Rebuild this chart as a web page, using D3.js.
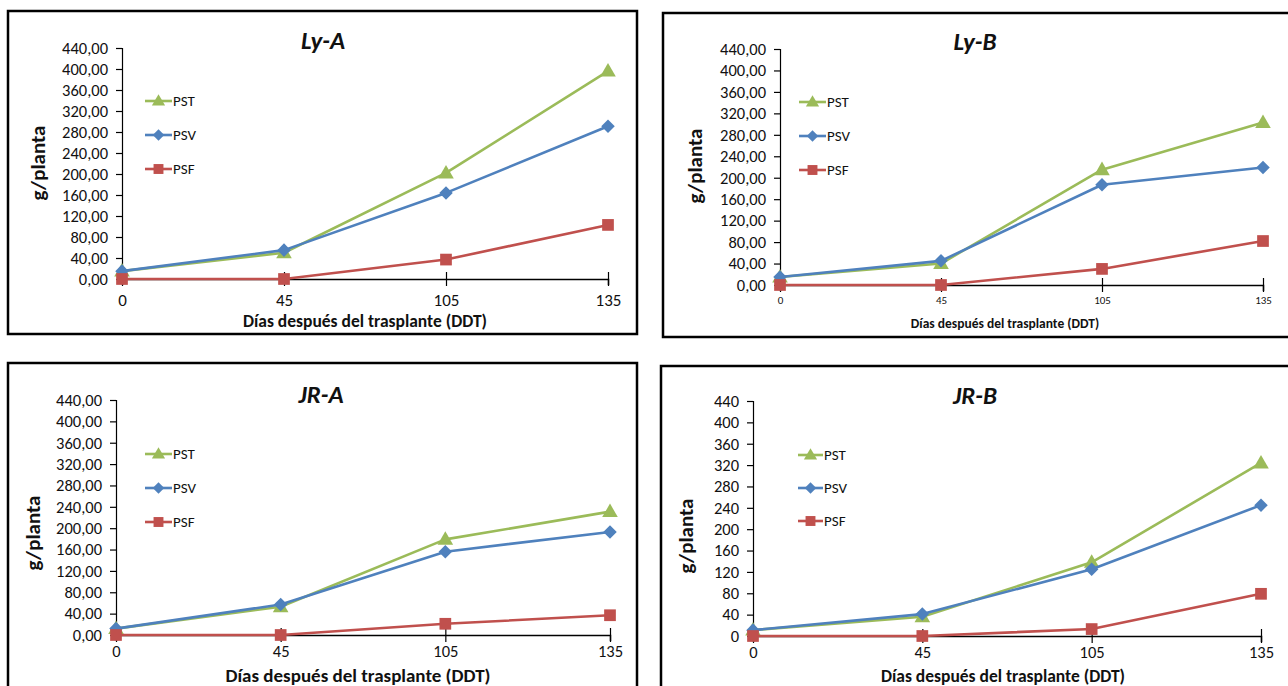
<!DOCTYPE html>
<html>
<head>
<meta charset="utf-8">
<script src="https://cdn.jsdelivr.net/npm/d3@7"></script>
<style>
  body { margin: 0; background: #fff; }
  svg text { font-family: Carlito, Calibri, Lato, sans-serif; fill: #111; }
</style>
</head>
<body>
<svg id="chart" width="1288" height="686"></svg>
<script>
// categories (Días después del trasplante)
var days = ["0", "45", "105", "135"];
var yTicks = [0, 40, 80, 120, 160, 200, 240, 280, 320, 360, 400, 440];

// Ly-A
var lyA_PST = [15, 50, 202, 396];
var lyA_PSV = [15, 55, 164, 291];
var lyA_PSF = [0, 0, 37, 103];
// Ly-B
var lyB_PST = [15, 40, 215, 303];
var lyB_PSV = [15, 45, 187, 219];
var lyB_PSF = [0, 0, 30, 82];
// JR-A
var jrA_PST = [12, 53, 179, 231];
var jrA_PSV = [12, 57, 156, 193];
var jrA_PSF = [0, 0, 21, 37];
// JR-B
var jrB_PST = [11, 36, 138, 324];
var jrB_PSV = [11, 41, 125, 245];
var jrB_PSF = [0, 0, 13, 79];

var seriesInfo = [
  {name: "PST", color: "#9BBB59", shape: "triangle"},
  {name: "PSV", color: "#4F81BD", shape: "diamond"},
  {name: "PSF", color: "#C0504D", shape: "square"}
];

var panels = [
  {title: "Ly-A", data: [lyA_PST, lyA_PSV, lyA_PSF], fmt: "dec",
   box: [8, 11, 629, 323], x0: 122, x1: 608, yBot: 279, yTop: 48,
   titleXY: [323, 49], yFont: 16.5, xFont: 17, xLabY: 300,
   xTitle: [365, 327, 17.5], yTitle: [38, 163, 21],
   leg: [145, 172, 101, 34, 15]},
  {title: "Ly-B", data: [lyB_PST, lyB_PSV, lyB_PSF], fmt: "dec",
   box: [663, 13, 640, 324], x0: 780, x1: 1263, yBot: 285, yTop: 49,
   titleXY: [975, 50], yFont: 16.5, xFont: 11, xLabY: 300,
   xTitle: [1005, 328, 13.5], yTitle: [695, 166, 21],
   leg: [799, 826, 102, 34, 15]},
  {title: "JR-A", data: [jrA_PST, jrA_PSV, jrA_PSF], fmt: "dec",
   box: [8, 363, 629, 340], x0: 116, x1: 610, yBot: 635, yTop: 400,
   titleXY: [321, 403], yFont: 16.5, xFont: 16.5, xLabY: 651,
   xTitle: [358, 682, 19], yTitle: [33, 533, 21],
   leg: [145, 172, 454, 34, 15]},
  {title: "JR-B", data: [jrB_PST, jrB_PSV, jrB_PSF], fmt: "int",
   box: [661, 366, 640, 340], x0: 753, x1: 1261, yBot: 636, yTop: 401,
   titleXY: [975, 404], yFont: 16.5, xFont: 16.5, xLabY: 652,
   xTitle: [1003, 682, 17.5], yTitle: [686, 536, 21],
   leg: [798, 823, 455, 33, 15]}
];

var svg = d3.select("#chart");
var commaFmt = function(v) { return d3.format(".2f")(v).replace(".", ","); };

function marker(sel, shape, color, cx, cy, s) {
  if (shape == "triangle") {
    sel.append("path")
      .attr("d", "M" + cx + "," + (cy - s * 0.62) + "L" + (cx + s * 0.6) + "," + (cy + s * 0.42) +
                 "L" + (cx - s * 0.6) + "," + (cy + s * 0.42) + "Z")
      .attr("fill", color);
  } else if (shape == "diamond") {
    var d = s * 0.52;
    sel.append("path")
      .attr("d", "M" + cx + "," + (cy - d) + "L" + (cx + d) + "," + cy +
                 "L" + cx + "," + (cy + d) + "L" + (cx - d) + "," + cy + "Z")
      .attr("fill", color);
  } else {
    var h = s * 0.45;
    sel.append("rect")
      .attr("x", cx - h).attr("y", cy - h)
      .attr("width", h * 2).attr("height", h * 2)
      .attr("fill", color);
  }
}

panels.forEach(function(p) {
  var g = svg.append("g");

  g.append("rect")
    .attr("x", p.box[0]).attr("y", p.box[1])
    .attr("width", p.box[2]).attr("height", p.box[3])
    .attr("fill", "#fff")
    .attr("stroke", "#000")
    .attr("stroke-width", 2.5);

  var x = d3.scalePoint().domain(days).range([p.x0, p.x1]);
  var y = d3.scaleLinear().domain([0, 440]).range([p.yBot, p.yTop]);

  // y axis
  var yAxis = g.append("g")
    .attr("transform", "translate(" + p.x0 + ",0)")
    .call(d3.axisLeft(y).tickValues(yTicks).tickSize(6).tickPadding(8)
      .tickFormat(p.fmt == "dec" ? commaFmt : d3.format("d")));
  yAxis.select(".domain").attr("stroke", "#000").attr("stroke-width", 1.2);
  yAxis.selectAll(".tick line").attr("stroke", "#000").attr("stroke-width", 1.2);
  yAxis.selectAll("text").attr("font-size", p.yFont).attr("fill", "#111").attr("font-family", null);

  // x axis
  var xAxis = g.append("g")
    .attr("transform", "translate(0," + p.yBot + ")")
    .call(d3.axisBottom(x).tickSizeOuter(0).tickSize(6));
  xAxis.select(".domain").attr("stroke", "#000").attr("stroke-width", 1.5);
  xAxis.selectAll(".tick line").attr("stroke", "#000").attr("stroke-width", 1.2).attr("y1", -7).attr("y2", 7);
  xAxis.selectAll("text")
    .attr("font-size", p.xFont).attr("fill", "#111").attr("font-family", null)
    .attr("y", p.xLabY - p.yBot).attr("dy", "0.35em");

  // titles
  g.append("text")
    .attr("x", p.titleXY[0]).attr("y", p.titleXY[1])
    .attr("text-anchor", "middle")
    .attr("font-size", 25).attr("font-weight", "bold").attr("font-style", "italic")
    .text(p.title);

  g.append("text")
    .attr("x", p.xTitle[0]).attr("y", p.xTitle[1])
    .attr("text-anchor", "middle")
    .attr("font-size", p.xTitle[2]).attr("font-weight", "bold")
    .text("Días después del trasplante (DDT)");

  g.append("text")
    .attr("transform", "translate(" + p.yTitle[0] + "," + p.yTitle[1] + ") rotate(-90)")
    .attr("text-anchor", "middle").attr("dy", "0.35em")
    .attr("font-size", p.yTitle[2]).attr("font-weight", "bold")
    .text("g/planta");

  // series lines + markers
  var line = d3.line()
    .x(function(d, i) { return x(days[i]); })
    .y(function(d) { return y(d); });

  p.data.forEach(function(vals, si) {
    var info = seriesInfo[si];
    g.append("path")
      .datum(vals)
      .attr("fill", "none")
      .attr("stroke", info.color)
      .attr("stroke-width", 2.6)
      .attr("stroke-linejoin", "round")
      .attr("d", line);
    vals.forEach(function(v, i) {
      marker(g, info.shape, info.color, x(days[i]), y(v), 13);
    });
  });

  // legend
  seriesInfo.forEach(function(info, i) {
    var ly = p.leg[2] + i * p.leg[3];
    g.append("line")
      .attr("x1", p.leg[0]).attr("x2", p.leg[1])
      .attr("y1", ly).attr("y2", ly)
      .attr("stroke", info.color).attr("stroke-width", 2.6);
    marker(g, info.shape, info.color, (p.leg[0] + p.leg[1]) / 2, ly, 11);
    g.append("text")
      .attr("x", p.leg[1] + 1).attr("y", ly).attr("dy", "0.35em")
      .attr("font-size", p.leg[4])
      .text(info.name);
  });
});
</script>
</body>
</html>
